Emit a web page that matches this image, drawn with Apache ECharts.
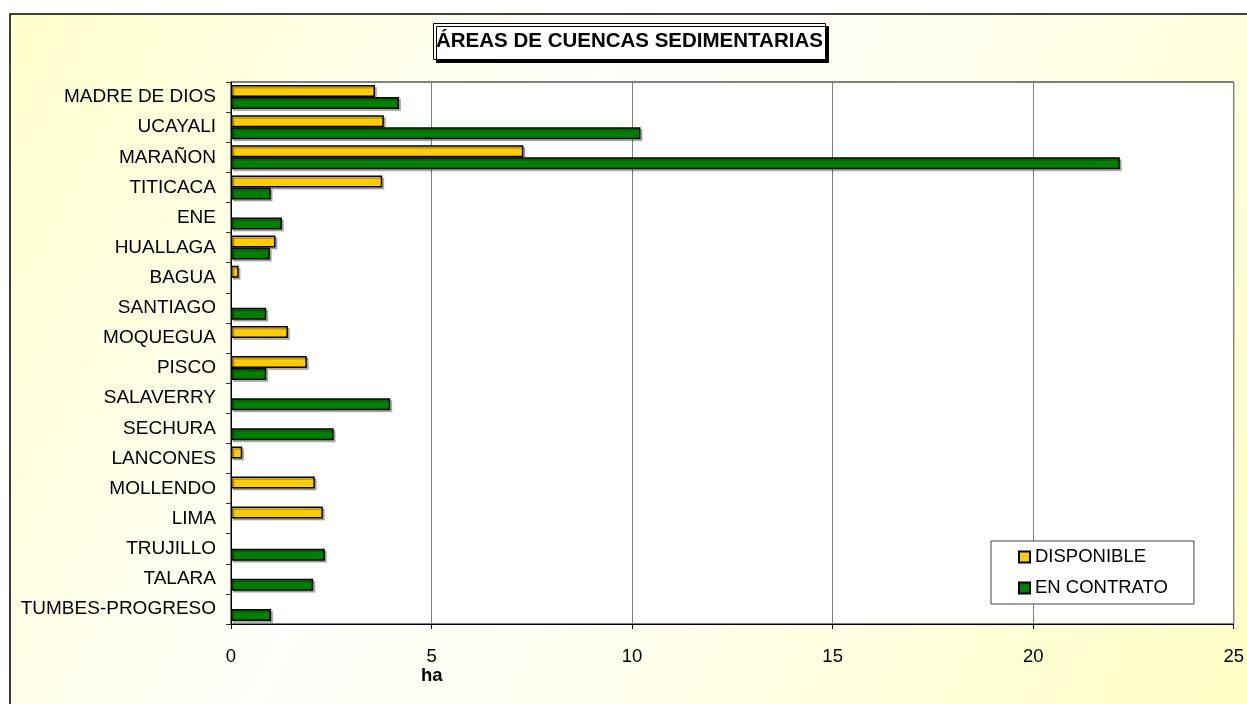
<!DOCTYPE html>
<html>
<head>
<meta charset="utf-8">
<script src="https://cdn.jsdelivr.net/npm/echarts@6/dist/echarts.min.js"></script>
<style>
  html, body { margin: 0; padding: 0; background: #fff; }
  #chart { width: 1247px; height: 704px; }
</style>
</head>
<body>
<div id="chart"></div>
<script>
// categorías de arriba hacia abajo
const categories = ["MADRE DE DIOS", "UCAYALI", "MARAÑON", "TITICACA", "ENE", "HUALLAGA", "BAGUA", "SANTIAGO", "MOQUEGUA", "PISCO", "SALAVERRY", "SECHURA", "LANCONES", "MOLLENDO", "LIMA", "TRUJILLO", "TALARA", "TUMBES-PROGRESO"];
const disponible = [3.59, 3.81, 7.29, 3.77, null, 1.11, 0.19, null, 1.42, 1.89, null, null, 0.28, 2.09, 2.29, null, null, null];
const enContrato = [4.19, 10.21, 22.16, 0.99, 1.27, 0.97, null, 0.88, null, 0.88, 3.97, 2.56, null, null, null, 2.34, 2.05, 1.0];
const xMin = 0;
const xMax = 25;
const xStep = 5;

const font = "Arial, 'Liberation Sans', sans-serif";
const chart = echarts.init(document.getElementById("chart"));

const barStyle = (color) => ({
  color: color,
  borderColor: "#000",
  borderWidth: 1.5,
  shadowColor: "rgba(0,0,0,0.25)",
  shadowBlur: 0,
  shadowOffsetX: 2,
  shadowOffsetY: 2,
});

chart.setOption({
  animation: false,
  textStyle: { fontFamily: font },
  graphic: [
    {
      type: "rect",
      z: -10,
      shape: { x: 10, y: 14, width: 1250, height: 700 },
      style: {
        fill: new echarts.graphic.LinearGradient(0, 0, 1, 1, [
          { offset: 0, color: "#ffffcc" },
          { offset: 0.38, color: "#fffffb" },
          { offset: 0.55, color: "#fffff2" },
          { offset: 1, color: "#ffffc4" },
        ]),
        stroke: "#000",
        lineWidth: 1.5,
      },
    },
    {
      type: "text",
      left: 421,
      top: 666,
      style: { text: "ha", fontSize: 18.5, fontWeight: "bold", fill: "#000", fontFamily: font },
    },
  ],
  title: {
    text: "ÁREAS DE CUENCAS SEDIMENTARIAS",
    left: 433,
    top: 23,
    padding: [8, 3, 8, 3],
    backgroundColor: "#fff",
    borderColor: "#000",
    borderWidth: 1,
    shadowColor: "#000",
    shadowBlur: 0,
    shadowOffsetX: 3,
    shadowOffsetY: 3,
    textStyle: { fontSize: 20.5, fontWeight: "bold", color: "#000", fontFamily: font },
  },
  legend: {
    orient: "vertical",
    left: 991,
    top: 541,
    padding: [6, 26, 6, 27],
    itemWidth: 11,
    itemHeight: 11,
    itemGap: 11,
    icon: "rect",
    backgroundColor: "#fff",
    borderColor: "#444",
    borderWidth: 1,
    textStyle: { fontSize: 18.5, color: "#000", lineHeight: 20, fontFamily: font },
    data: ["DISPONIBLE", "EN CONTRATO"],
  },
  grid: {
    left: 231,
    right: 11,
    top: 82,
    bottom: 80,
    show: true,
    backgroundColor: "#fff",
    borderColor: "#000",
    borderWidth: 1,
  },
  xAxis: {
    type: "value",
    min: xMin,
    max: xMax,
    interval: xStep,
    axisLine: { show: true, lineStyle: { color: "#000", width: 1 } },
    axisTick: { show: true, length: 5, lineStyle: { color: "#000" } },
    axisLabel: { fontSize: 18.5, color: "#000", margin: 23 },
    splitLine: { show: true, lineStyle: { color: "#808080", width: 1 } },
  },
  yAxis: {
    type: "category",
    inverse: true,
    data: categories,
    axisLine: { show: true, lineStyle: { color: "#000", width: 1 } },
    axisTick: { show: true, length: 5, lineStyle: { color: "#333" } },
    axisLabel: { fontSize: 19, color: "#000", margin: 15 },
    splitLine: { show: false },
  },
  series: [
    {
      name: "DISPONIBLE",
      type: "bar",
      barWidth: 12,
      barGap: "0%",
      itemStyle: barStyle("#ffcc00"),
      data: disponible,
    },
    {
      name: "EN CONTRATO",
      type: "bar",
      barWidth: 12,
      barGap: "0%",
      itemStyle: barStyle("#008000"),
      data: enContrato,
    },
  ],
});
</script>
</body>
</html>
